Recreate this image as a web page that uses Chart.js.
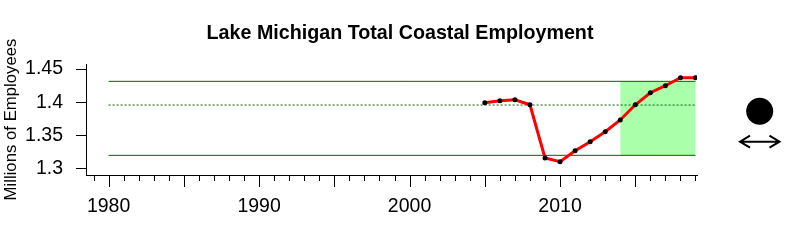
<!DOCTYPE html>
<html>
<head>
<meta charset="utf-8">
<script src="https://cdn.jsdelivr.net/npm/chart.js@4"></script>
<style>
  html, body { margin: 0; padding: 0; background: #fff; }
  #wrap { width: 800px; height: 240px; position: relative; }
</style>
</head>
<body>
<div id="wrap"><canvas id="chart"></canvas></div>
<script>
// data
var years = [2005, 2006, 2007, 2008, 2009, 2010, 2011, 2012, 2013, 2014, 2015, 2016, 2017, 2018, 2019]
var employment = [1.399, 1.402, 1.4036, 1.396, 1.3156, 1.310, 1.3266, 1.340, 1.3553, 1.373, 1.396, 1.4142, 1.4248, 1.4369, 1.4369]

var refYears = [1980, 2019]      // span of the reference lines
var upperLine = 1.4314
var meanLine = 1.3956
var lowerLine = 1.3196
var shadeYears = [2014, 2019]    // recent-years window

var yTicks = [1.3, 1.35, 1.4, 1.45]
var xLabels = [1980, 1990, 2000, 2010]
var firstYearTick = 1979
var lastYearTick = 2019

var titleText = "Lake Michigan Total Coastal Employment"
var yTitle = "Millions of Employees"

Chart.defaults.font.family = "'Liberation Sans', Arial, sans-serif"
Chart.defaults.color = "#000"

function pairs(xs, ys) {
    var out = []
    for (var i = 0; i < xs.length; i++) {
        out.push({x: xs[i], y: ys[i]})
    }
    return out
}

function flat(xs, v) {
    return xs.map(function (x) { return {x: x, y: v} })
}

// minor (yearly) and major (5 yearly) tick marks under the x axis + trend symbols
var extras = {
    id: "extras",
    afterDraw: function (chart) {
        var ctx = chart.ctx
        var xs = chart.scales.x
        var base = chart.chartArea.bottom
        ctx.save()
        ctx.strokeStyle = "#000"
        ctx.lineWidth = 1
        for (var yr = firstYearTick; yr <= lastYearTick; yr++) {
            var px = Math.round(xs.getPixelForValue(yr)) + 0.5
            var len = (yr % 5 == 0) ? 12 : 6
            ctx.beginPath()
            ctx.moveTo(px, base)
            ctx.lineTo(px, base + len)
            ctx.stroke()
        }

        // trend indicator: filled circle and double arrow
        ctx.fillStyle = "#000"
        ctx.beginPath()
        ctx.arc(759.7, 111.3, 13.5, 0, 2 * Math.PI)
        ctx.fill()

        var ay = 141.7
        ctx.lineWidth = 2
        ctx.beginPath()
        ctx.moveTo(740, ay)
        ctx.lineTo(779.5, ay)
        ctx.moveTo(750, ay - 6)
        ctx.lineTo(740, ay)
        ctx.lineTo(750, ay + 6)
        ctx.moveTo(769.5, ay - 6)
        ctx.lineTo(779.5, ay)
        ctx.lineTo(769.5, ay + 6)
        ctx.stroke()
        ctx.restore()
    }
}

var chart = new Chart("chart", {
    type: "line",
    data: {
        datasets: [{
            data: pairs(years, employment),
            borderColor: "#ff0000",
            borderWidth: 3,
            pointRadius: 2.5,
            pointBackgroundColor: "#000",
            pointBorderColor: "#000",
            pointBorderWidth: 0,
            fill: false,
            tension: 0
        }, {
            data: flat(refYears, upperLine),
            borderColor: "#006400",
            borderWidth: 1,
            pointRadius: 0,
            fill: false
        }, {
            data: flat(refYears, meanLine),
            borderColor: "#006400",
            borderWidth: 1,
            borderDash: [2, 2],
            pointRadius: 0,
            fill: false
        }, {
            data: flat(refYears, lowerLine),
            borderColor: "#006400",
            borderWidth: 1,
            pointRadius: 0,
            fill: false
        }, {
            data: flat(shadeYears, upperLine),
            borderColor: "transparent",
            borderWidth: 0,
            pointRadius: 0,
            backgroundColor: "#aaffaa",
            fill: "+1"
        }, {
            data: flat(shadeYears, lowerLine),
            borderColor: "transparent",
            borderWidth: 0,
            pointRadius: 0,
            fill: false
        }]
    },
    options: {
        responsive: true,
        maintainAspectRatio: false,
        animation: false,
        events: [],
        layout: {padding: 0},
        plugins: {
            legend: {display: false},
            tooltip: {enabled: false},
            title: {
                display: true,
                text: titleText,
                color: "#000",
                font: {size: 19.7, weight: "bold", lineHeight: "24px"},
                padding: {top: 21.8, bottom: 18.2}
            }
        },
        scales: {
            x: {
                type: "linear",
                min: 1978.5,
                max: 2019.1,
                grid: {display: false, drawTicks: false},
                border: {display: true, color: "#000", width: 1},
                ticks: {
                    stepSize: 10,
                    includeBounds: false,
                    autoSkip: false,
                    maxRotation: 0,
                    padding: 20.3,
                    font: {size: 19.5},
                    callback: function (v) { return xLabels.indexOf(v) >= 0 ? String(v) : null }
                },
                afterFit: function (s) { s.height = 65 }
            },
            y: {
                type: "linear",
                min: 1.2899,
                max: 1.4576,
                afterBuildTicks: function (s) {
                    s.ticks = yTicks.map(function (v) { return {value: v} })
                },
                grid: {display: true, drawOnChartArea: false, drawTicks: true, tickLength: 10, color: "#000", lineWidth: 1},
                border: {display: true, color: "#000", width: 1},
                ticks: {
                    padding: 13,
                    font: {size: 19.5},
                    callback: function (v) { return String(v) }
                },
                title: {
                    display: true,
                    text: yTitle,
                    color: "#000",
                    font: {size: 16.75},
                    padding: {top: 1.8, bottom: 0}
                },
                afterFit: function (s) { s.width = 86 }
            },
            spacer: {
                type: "linear",
                position: "right",
                display: true,
                grid: {display: false},
                border: {display: false},
                ticks: {display: false},
                afterFit: function (s) { s.width = 103 }
            }
        }
    },
    plugins: [extras]
})
</script>
</body>
</html>
